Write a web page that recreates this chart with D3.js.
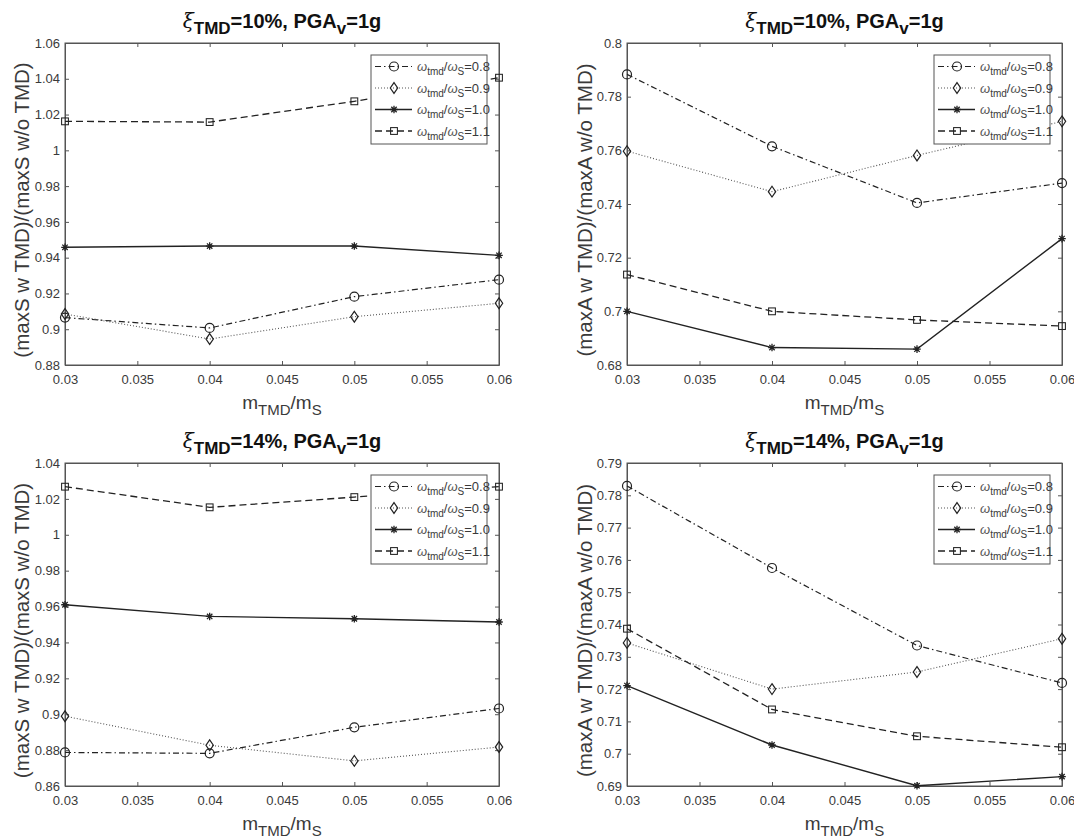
<!DOCTYPE html>
<html>
<head>
<meta charset="utf-8">
<script src="https://cdn.jsdelivr.net/npm/d3@7"></script>
<style>
  html, body { margin: 0; padding: 0; background: #fff; }
  svg { display: block; }
</style>
</head>
<body>
<script>
// ---------------- DATA ----------------
const massRatio = [0.03, 0.04, 0.05, 0.06];
const xTickValues = [0.03, 0.035, 0.04, 0.045, 0.05, 0.055, 0.06];
const freqRatioLabels = ["0.8", "0.9", "1.0", "1.1"];

// xi_TMD = 10%, displacement ratio
const disp10_w08 = [0.9065, 0.9007, 0.9182, 0.9277];
const disp10_w09 = [0.9085, 0.8945, 0.9070, 0.9145];
const disp10_w10 = [0.9458, 0.9465, 0.9465, 0.9413];
const disp10_w11 = [1.0162, 1.0158, 1.0274, 1.0406];

// xi_TMD = 10%, acceleration ratio
const acc10_w08 = [0.7883, 0.7615, 0.7404, 0.7478];
const acc10_w09 = [0.7597, 0.7446, 0.7581, 0.7708];
const acc10_w10 = [0.7000, 0.6865, 0.6859, 0.7271];
const acc10_w11 = [0.7137, 0.7000, 0.6968, 0.6945];

// xi_TMD = 14%, displacement ratio
const disp14_w08 = [0.8787, 0.8782, 0.8927, 0.9032];
const disp14_w09 = [0.8989, 0.8827, 0.8740, 0.8817];
const disp14_w10 = [0.9610, 0.9545, 0.9532, 0.9514];
const disp14_w11 = [1.0268, 1.0153, 1.0210, 1.0268];

// xi_TMD = 14%, acceleration ratio
const acc14_w08 = [0.7829, 0.7575, 0.7335, 0.7219];
const acc14_w09 = [0.7343, 0.7200, 0.7253, 0.7356];
const acc14_w10 = [0.7211, 0.7027, 0.6901, 0.6929];
const acc14_w11 = [0.7387, 0.7137, 0.7054, 0.7020];

// y tick values
const yTicksDisp10 = [0.88, 0.90, 0.92, 0.94, 0.96, 0.98, 1.00, 1.02, 1.04, 1.06];
const yTicksAcc10  = [0.68, 0.70, 0.72, 0.74, 0.76, 0.78, 0.80];
const yTicksDisp14 = [0.86, 0.88, 0.90, 0.92, 0.94, 0.96, 0.98, 1.00, 1.02, 1.04];
const yTicksAcc14  = [0.69, 0.70, 0.71, 0.72, 0.73, 0.74, 0.75, 0.76, 0.77, 0.78, 0.79];

const dampingLabels = ["10%", "10%", "14%", "14%"];
const yLabels = ["(maxS w TMD)/(maxS w/o TMD)", "(maxA w TMD)/(maxA w/o TMD)",
                 "(maxS w TMD)/(maxS w/o TMD)", "(maxA w TMD)/(maxA w/o TMD)"];

// ---------------- LAYOUT ----------------
const W = 1074, H = 840;
const FONT = "'Liberation Sans', Arial, Helvetica, sans-serif";
const AXIS_COLOR = "#555";
const TEXT_COLOR = "#3a3a3a";

const panels = [
  { left: 65,  right: 499,  top: 43,  bottom: 365, yLabelX: 22,
    yDomain: [0.88, 1.06], yTicks: yTicksDisp10, damping: dampingLabels[0], yLabel: yLabels[0],
    series: [disp10_w08, disp10_w09, disp10_w10, disp10_w11] },
  { left: 627, right: 1062, top: 43,  bottom: 365, yLabelX: 585,
    yDomain: [0.68, 0.80], yTicks: yTicksAcc10, damping: dampingLabels[1], yLabel: yLabels[1],
    series: [acc10_w08, acc10_w09, acc10_w10, acc10_w11] },
  { left: 65,  right: 499,  top: 463, bottom: 786, yLabelX: 22,
    yDomain: [0.86, 1.04], yTicks: yTicksDisp14, damping: dampingLabels[2], yLabel: yLabels[2],
    series: [disp14_w08, disp14_w09, disp14_w10, disp14_w11] },
  { left: 627, right: 1062, top: 463, bottom: 786, yLabelX: 585,
    yDomain: [0.69, 0.79], yTicks: yTicksAcc14, damping: dampingLabels[3], yLabel: yLabels[3],
    series: [acc14_w08, acc14_w09, acc14_w10, acc14_w11] }
];

const lineStyles = [
  { dash: "6,3,1.5,3", marker: "circle",   color: "#222", width: 1.2 },
  { dash: "1,2",       marker: "diamond",  color: "#555", width: 1.1 },
  { dash: null,        marker: "asterisk", color: "#222", width: 1.4 },
  { dash: "7,4",       marker: "square",   color: "#222", width: 1.3 }
];

const fmt = d => String(+d.toFixed(3));

const svg = d3.select("body").append("svg")
  .attr("width", W).attr("height", H)
  .style("font-family", FONT);

function drawMarker(g, type, x, y, color) {
  if (type === "circle") {
    g.append("circle").attr("cx", x).attr("cy", y).attr("r", 4.5)
      .attr("fill", "none").attr("stroke", color).attr("stroke-width", 1.2);
  } else if (type === "diamond") {
    g.append("path")
      .attr("d", `M${x},${y-5.4}L${x+3.7},${y}L${x},${y+5.4}L${x-3.7},${y}Z`)
      .attr("fill", "none").attr("stroke", "#222").attr("stroke-width", 1.2);
  } else if (type === "square") {
    g.append("rect").attr("x", x - 3.4).attr("y", y - 3.4).attr("width", 6.8).attr("height", 6.8)
      .attr("fill", "none").attr("stroke", color).attr("stroke-width", 1.05);
  } else if (type === "asterisk") {
    const r = 3.8, d = 2.7;
    const p = `M${x-r},${y}L${x+r},${y}M${x},${y-r}L${x},${y+r}` +
              `M${x-d},${y-d}L${x+d},${y+d}M${x-d},${y+d}L${x+d},${y-d}`;
    g.append("path").attr("d", p).attr("stroke", color).attr("stroke-width", 1.3).attr("fill", "none");
  }
}

panels.forEach((p) => {
  const x = d3.scaleLinear().domain([0.03, 0.06]).range([p.left, p.right]);
  const y = d3.scaleLinear().domain(p.yDomain).range([p.bottom, p.top]);
  const g = svg.append("g");

  // box
  g.append("rect").attr("x", p.left).attr("y", p.top)
    .attr("width", p.right - p.left).attr("height", p.bottom - p.top)
    .attr("fill", "#fff").attr("stroke", AXIS_COLOR).attr("stroke-width", 1);

  // axes
  const styleAxis = (sel) => {
    sel.select(".domain").attr("stroke", AXIS_COLOR);
    sel.selectAll(".tick line").attr("stroke", AXIS_COLOR);
    sel.selectAll(".tick text").attr("fill", TEXT_COLOR).attr("font-size", 13).attr("font-family", FONT);
  };
  g.append("g").attr("transform", `translate(0,${p.bottom})`)
    .call(d3.axisBottom(x).tickValues(xTickValues).tickFormat(fmt).tickSizeInner(-4).tickSizeOuter(0).tickPadding(10))
    .call(styleAxis);
  g.append("g").attr("transform", `translate(0,${p.top})`)
    .call(d3.axisTop(x).tickValues(xTickValues).tickFormat("").tickSizeInner(-4).tickSizeOuter(0))
    .call(styleAxis);
  g.append("g").attr("transform", `translate(${p.left},0)`)
    .call(d3.axisLeft(y).tickValues(p.yTicks).tickFormat(fmt).tickSizeInner(-4).tickSizeOuter(0).tickPadding(5))
    .call(styleAxis);
  g.append("g").attr("transform", `translate(${p.right},0)`)
    .call(d3.axisRight(y).tickValues(p.yTicks).tickFormat("").tickSizeInner(-4).tickSizeOuter(0))
    .call(styleAxis);

  // series lines
  const line = d3.line().x((d, i) => x(massRatio[i])).y(d => y(d));
  p.series.forEach((vals, si) => {
    const st = lineStyles[si];
    g.append("path").datum(vals).attr("d", line)
      .attr("fill", "none").attr("stroke", st.color).attr("stroke-width", st.width)
      .attr("stroke-dasharray", st.dash);
  });
  p.series.forEach((vals, si) => {
    const st = lineStyles[si];
    vals.forEach((v, i) => drawMarker(g, st.marker, x(massRatio[i]), y(v), "#222"));
  });

  // title
  const cx = (p.left + p.right) / 2;
  const t = g.append("text").attr("x", cx).attr("y", p.top - 15)
    .attr("text-anchor", "middle").attr("font-size", 20).attr("font-weight", "bold").attr("fill", "#111");
  t.append("tspan").attr("font-weight", "normal").attr("font-family", "'DejaVu Serif', serif").attr("font-style", "italic").text("ξ");
  t.append("tspan").attr("font-size", 17).attr("dy", 6).text("TMD");
  t.append("tspan").attr("dy", -6).text("=" + p.damping + ", PGA");
  t.append("tspan").attr("font-size", 17).attr("dy", 6).text("v");
  t.append("tspan").attr("dy", -6).text("=1g");

  // x label
  const xl = g.append("text").attr("x", cx).attr("y", p.bottom + 44)
    .attr("text-anchor", "middle").attr("font-size", 19).attr("fill", TEXT_COLOR);
  xl.append("tspan").text("m");
  xl.append("tspan").attr("font-size", 15).attr("dy", 6).text("TMD");
  xl.append("tspan").attr("dy", -6).text("/m");
  xl.append("tspan").attr("font-size", 15).attr("dy", 6).text("S");

  // y label
  const cy = (p.top + p.bottom) / 2;
  g.append("text").attr("transform", `translate(${p.yLabelX},${cy + 6}) rotate(-90)`)
    .attr("text-anchor", "middle").attr("dy", "0.35em")
    .attr("font-size", 20.5).attr("fill", TEXT_COLOR).text(p.yLabel);

  // legend
  const lw = 116, lh = 89;
  const lx = p.right - 12 - lw, ly = p.top + 12;
  const lg = g.append("g");
  lg.append("rect").attr("x", lx).attr("y", ly).attr("width", lw).attr("height", lh)
    .attr("fill", "#fff").attr("stroke", AXIS_COLOR).attr("stroke-width", 1);
  freqRatioLabels.forEach((lab, i) => {
    const st = lineStyles[i];
    const yy = ly + 11.5 + i * 21.5;
    lg.append("line").attr("x1", lx + 4).attr("x2", lx + 41).attr("y1", yy).attr("y2", yy)
      .attr("stroke", st.color).attr("stroke-width", st.width).attr("stroke-dasharray", st.dash);
    drawMarker(lg, st.marker, lx + 23, yy, "#222");
    const tx = lg.append("text").attr("x", lx + 46).attr("y", yy + 4.5)
      .attr("font-size", 13).attr("fill", TEXT_COLOR);
    tx.append("tspan").attr("fill", "#555").attr("font-style", "italic").text("ω");
    tx.append("tspan").attr("font-size", 10).attr("dy", 4).text("tmd");
    tx.append("tspan").attr("dy", -4).text("/");
    tx.append("tspan").attr("fill", "#555").attr("font-style", "italic").text("ω");
    tx.append("tspan").attr("font-size", 10).attr("dy", 4).text("S");
    tx.append("tspan").attr("dy", -4).text("=" + lab);
  });
});
</script>
</body>
</html>
